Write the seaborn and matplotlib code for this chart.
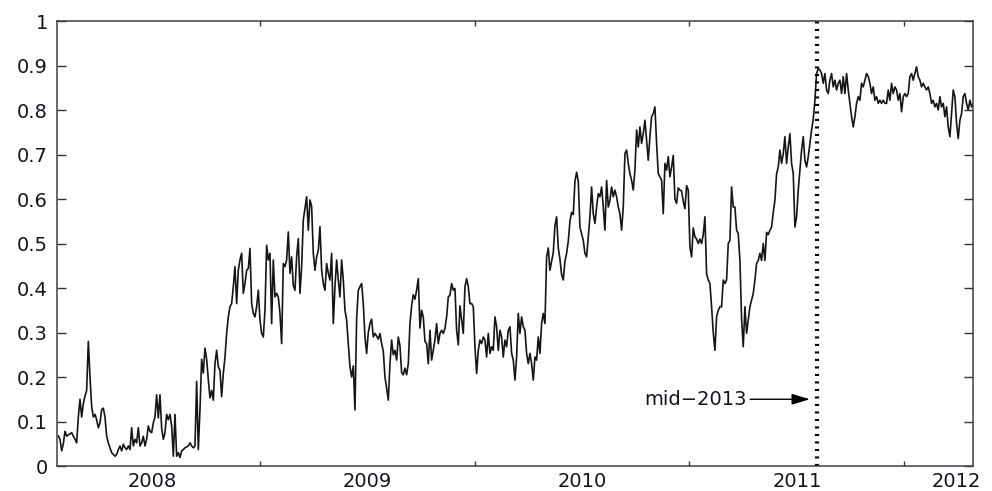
import numpy as np
import pandas as pd
import matplotlib
matplotlib.use("Agg")
import matplotlib.pyplot as plt
from matplotlib.patches import ArrowStyle
import seaborn as sns

# Observations are spaced 1/129 of a year apart, starting at t0 (decimal years)
t0 = 2007.564
dt = 1.0 / 129.0

vals_1 = [0.068, 0.060, 0.034, 0.050, 0.078, 0.067, 0.070, 0.072, 0.075, 0.067,
          0.060, 0.052, 0.110, 0.150, 0.110, 0.140, 0.157, 0.170, 0.280, 0.200,
          0.134, 0.110, 0.116, 0.104, 0.086, 0.097, 0.127, 0.130, 0.110, 0.067,
          0.052, 0.041, 0.030, 0.026, 0.022, 0.026, 0.037, 0.045, 0.034, 0.049,
          0.041, 0.037, 0.045, 0.037, 0.086, 0.045, 0.060, 0.052, 0.086, 0.045,
          0.052, 0.067, 0.045, 0.060, 0.090, 0.078, 0.075, 0.097, 0.110, 0.160,
          0.108, 0.160, 0.085, 0.060, 0.075, 0.116, 0.104, 0.116, 0.090, 0.022,
          0.116, 0.022, 0.030, 0.019, 0.034, 0.037, 0.041, 0.043, 0.045, 0.052,
          0.045, 0.041, 0.045, 0.190, 0.037]

vals_2 = [0.127, 0.240, 0.209, 0.265, 0.240, 0.194, 0.153, 0.170, 0.148, 0.230,
          0.260, 0.223, 0.215, 0.156, 0.208, 0.245, 0.298, 0.335, 0.358, 0.365,
          0.403, 0.448, 0.365, 0.440, 0.463, 0.478, 0.388, 0.410, 0.440, 0.444,
          0.489, 0.365, 0.343, 0.335, 0.358, 0.395, 0.328, 0.298, 0.290, 0.350,
          0.496, 0.463, 0.478, 0.320, 0.463, 0.380, 0.388, 0.380, 0.343, 0.275,
          0.455, 0.448, 0.463, 0.526, 0.433, 0.470, 0.406, 0.395, 0.470, 0.511,
          0.388, 0.448, 0.553, 0.579, 0.605, 0.530, 0.598, 0.583, 0.478, 0.440,
          0.470, 0.485, 0.538, 0.440, 0.410, 0.395, 0.455, 0.433, 0.418, 0.478,
          0.320, 0.403, 0.463, 0.418, 0.380, 0.463, 0.418, 0.350, 0.328, 0.275]

vals_3 = [0.223, 0.200, 0.225, 0.126, 0.330, 0.395, 0.403, 0.410, 0.365, 0.290,
          0.253, 0.300, 0.320, 0.330, 0.290, 0.298, 0.292, 0.285, 0.298, 0.275,
          0.258, 0.200, 0.175, 0.148, 0.230, 0.283, 0.250, 0.260, 0.238, 0.290,
          0.270, 0.210, 0.205, 0.220, 0.205, 0.230, 0.320, 0.360, 0.385, 0.375,
          0.395, 0.421, 0.310, 0.350, 0.335, 0.280, 0.275, 0.230, 0.305, 0.238,
          0.260, 0.283, 0.320, 0.275, 0.298, 0.305, 0.298, 0.309, 0.335, 0.380,
          0.384, 0.410, 0.395, 0.399, 0.305, 0.272, 0.360, 0.330, 0.298, 0.403,
          0.421, 0.403, 0.365, 0.365, 0.358, 0.268, 0.208, 0.260, 0.283, 0.275,
          0.290, 0.283, 0.245, 0.298, 0.253, 0.268, 0.260, 0.335, 0.313, 0.260,
          0.305, 0.290, 0.245, 0.283, 0.268, 0.305]

vals_4 = [0.313, 0.253, 0.238, 0.193, 0.245, 0.343, 0.298, 0.335, 0.313, 0.305,
          0.253, 0.230, 0.253, 0.230, 0.193, 0.245, 0.238, 0.290, 0.253, 0.320,
          0.343, 0.320, 0.470, 0.490, 0.440, 0.460, 0.480, 0.540, 0.560, 0.490,
          0.465, 0.430, 0.418, 0.460, 0.478, 0.505, 0.550, 0.570, 0.565, 0.640,
          0.660, 0.640, 0.537, 0.522, 0.507, 0.478, 0.470, 0.515, 0.560, 0.627,
          0.567, 0.545, 0.582, 0.612, 0.605, 0.627, 0.582, 0.530, 0.642, 0.582,
          0.597, 0.627, 0.605, 0.620, 0.605, 0.582, 0.567, 0.530, 0.582, 0.702,
          0.710, 0.680, 0.657, 0.642, 0.620, 0.665, 0.755, 0.717, 0.762, 0.725,
          0.747, 0.777, 0.732, 0.687, 0.740, 0.785, 0.792, 0.807, 0.725, 0.657]

vals_5 = [0.650, 0.642, 0.567, 0.680, 0.665, 0.695, 0.650, 0.672, 0.698, 0.600,
          0.590, 0.625, 0.620, 0.618, 0.595, 0.578, 0.630, 0.620, 0.492, 0.470,
          0.535, 0.515, 0.510, 0.500, 0.510, 0.500, 0.520, 0.560, 0.432, 0.418,
          0.410, 0.358, 0.300, 0.260, 0.335, 0.350, 0.358, 0.358, 0.418, 0.410,
          0.418, 0.500, 0.507, 0.627, 0.582, 0.582, 0.530, 0.522, 0.462, 0.330,
          0.268, 0.358, 0.298, 0.328, 0.358, 0.373, 0.388, 0.418, 0.455, 0.462,
          0.478, 0.462, 0.500, 0.462, 0.525, 0.520, 0.530, 0.537, 0.570, 0.597,
          0.657, 0.672, 0.710, 0.680, 0.702, 0.740, 0.680, 0.717, 0.747, 0.680,
          0.657, 0.537, 0.560, 0.620, 0.665, 0.710, 0.740, 0.687, 0.672, 0.695]

vals_6 = [0.725, 0.755, 0.780, 0.822, 0.882, 0.893, 0.890, 0.882, 0.860, 0.882,
          0.845, 0.837, 0.867, 0.882, 0.852, 0.867, 0.845, 0.860, 0.867, 0.837,
          0.875, 0.837, 0.882, 0.845, 0.815, 0.785, 0.762, 0.785, 0.815, 0.830,
          0.822, 0.860, 0.852, 0.867, 0.882, 0.875, 0.860, 0.837, 0.852, 0.822,
          0.830, 0.815, 0.822, 0.815, 0.822, 0.815, 0.815, 0.845, 0.822, 0.860,
          0.837, 0.852, 0.845, 0.822, 0.837, 0.796, 0.830, 0.837, 0.830, 0.837,
          0.875, 0.882, 0.867, 0.882, 0.897, 0.875, 0.867, 0.852, 0.860, 0.852,
          0.845, 0.852, 0.837, 0.815, 0.822, 0.807, 0.815, 0.800, 0.830, 0.807,
          0.815, 0.785, 0.807, 0.762, 0.740, 0.792, 0.845, 0.830, 0.770, 0.736,
          0.777, 0.792, 0.830, 0.837, 0.815, 0.800, 0.822, 0.807, 0.815]

tick_years = [2008.5, 2009.5, 2010.5, 2011.5]
label_years = [2008, 2009, 2010, 2011, 2011.74]
year_labels = ["2008", "2009", "2010", "2011", "2012"]
y_ticks = [0, 0.1, 0.2, 0.3, 0.4, 0.5, 0.6, 0.7, 0.8, 0.9, 1]
y_labels = ["0", "0.1", "0.2", "0.3", "0.4", "0.5", "0.6", "0.7", "0.8", "0.9", "1"]
marker_year = 2011.093
note_text = "mid\u22122013"
note_xy = (2011.060, 0.15)
note_text_xy = (2010.767, 0.15)

values = np.concatenate([vals_1, vals_2, vals_3, vals_4, vals_5, vals_6])
df = pd.DataFrame({"t": t0 + dt * np.arange(len(values)), "v": values})

sns.set_theme(style="white")
plt.rcParams["font.family"] = ["DejaVu Sans"]

fig = plt.figure(figsize=(9.92, 4.91), dpi=100)
ax = fig.add_axes([0.0575, 0.0509, 0.9234, 0.9063])

sns.lineplot(data=df, x="t", y="v", ax=ax, color="#151515", linewidth=1.2)

ax.set_xlim(2007.558, 2011.819)
ax.set_ylim(0, 1)
ax.set_xlabel("")
ax.set_ylabel("")

# major x ticks carry the marks, minor ones carry the year labels
ax.set_xticks(tick_years)
ax.set_xticklabels([""] * len(tick_years))
ax.set_xticks(label_years, minor=True)
ax.set_xticklabels(year_labels, minor=True)
ax.set_yticks(y_ticks)
ax.set_yticklabels(y_labels)

ax.tick_params(axis="x", which="major", direction="in", length=3.6, width=1.0,
               color="#333333", top=True, bottom=True)
ax.tick_params(axis="x", which="minor", length=0, pad=4.5, labelsize=14,
               labelcolor="#14141e")
ax.tick_params(axis="y", which="major", direction="in", length=6.5, width=1.0,
               color="#333333", left=True, right=True, pad=6.5, labelsize=14,
               labelcolor="#14141e")

for side in ["left", "right", "top", "bottom"]:
    ax.spines[side].set_visible(True)
    ax.spines[side].set_color("#404040")
    ax.spines[side].set_linewidth(1.1)
ax.grid(False)

ax.axvline(marker_year, color="black", linewidth=3.0,
           linestyle=(0, (0.5, 1.3)), dash_capstyle="butt")

ax.annotate(note_text, xy=note_xy, xytext=note_text_xy,
            ha="right", va="center", fontsize=14, color="#14141e",
            arrowprops=dict(arrowstyle=ArrowStyle("-|>", head_length=1.0, head_width=0.3),
                            mutation_scale=11, color="black", lw=1.0,
                            shrinkA=0, shrinkB=0))

fig.savefig("out.png", dpi=100, facecolor="white")
